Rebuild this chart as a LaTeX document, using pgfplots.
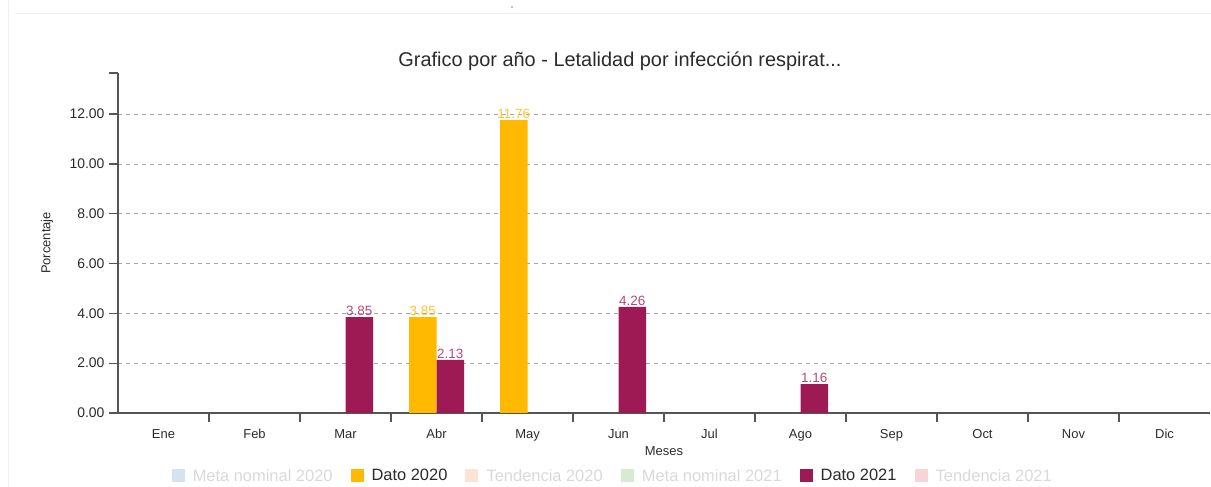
\documentclass[border=0pt]{standalone}
\usepackage{pgfplots}
\pgfplotsset{compat=1.18}
\usepackage{fontspec}
\setmainfont{Liberation Sans}
\definecolor{c20}{HTML}{FFB900}
\definecolor{c21}{HTML}{9E1A55}
\definecolor{l20}{HTML}{FFC233}
\definecolor{l21}{HTML}{B34A7E}
\definecolor{axc}{HTML}{555555}
\definecolor{txt}{HTML}{2B2B2B}
\definecolor{fade}{HTML}{D9D9D9}
\definecolor{fblue}{HTML}{D5E3F0}
\definecolor{fpeach}{HTML}{FCE3D3}
\definecolor{fgreen}{HTML}{D8EAD2}
\definecolor{fpink}{HTML}{F7D4D7}
\pgfplotsset{sq/.style={legend image code/.code={\fill[##1, draw=none] (0bp,-6.5bp) rectangle (13bp,6.5bp); \path (19bp,0bp);}}}
\begin{document}
\begin{tikzpicture}
\path[use as bounding box] (0,0) rectangle (1211bp,487bp);
\draw[gray!12, line width=1bp] (15bp,473bp) -- (1211bp,473bp);
\draw[gray!12, line width=1bp] (8bp,0bp) -- (8bp,487bp);
\fill[gray!70] (512bp,480bp) circle (1.2bp);
\begin{axis}[
  at={(118bp,74bp)}, anchor=south west,
  scale only axis, width=1092bp, height=340bp,
  xmin=0.5, xmax=12.5, ymin=0, ymax=13.65,
  ybar=0pt, bar width=27.5bp,
  axis lines*=left,
  axis line style={axc, line width=1.4bp},
  tick style={axc, line width=1.2bp},
  tick align=outside, major tick length=9bp,
  xtick={1.5,2.5,...,11.5}, xticklabels={},
  extra x ticks={1,2,...,12},
  extra x tick labels={Ene,Feb,Mar,Abr,May,Jun,Jul,Ago,Sep,Oct,Nov,Dic},
  extra x tick style={major tick length=0pt, grid=none},
  xticklabel style={yshift=-13bp},
  ytick={0,2,...,12},
  extra y ticks={13.65}, extra y tick labels={},
  extra y tick style={grid=none},
  ymajorgrids,
  grid style={gray!70, line width=0.8bp, dash pattern=on 4bp off 4bp},
  /pgf/number format/assume math mode=true,
  yticklabel style={/pgf/number format/fixed, /pgf/number format/fixed zerofill, /pgf/number format/precision=2, font=\fontsize{14}{16}\selectfont, xshift=-1bp},
  tick label style={font=\fontsize{13}{15}\selectfont, text=txt},
  xlabel={Meses}, ylabel={Porcentaje},
  label style={font=\fontsize{13}{15}\selectfont, text=txt},
  xlabel style={at={(axis description cs:0.5,0)}, anchor=center, yshift=-38bp},
  ylabel style={at={(axis description cs:-0.065,0.5)}, anchor=center},
  title={Grafico por año - Letalidad por infección respirat...},
  title style={at={(axis description cs:0.4597,1)}, anchor=center, yshift=6bp, font=\fontsize{20}{22}\selectfont, text=txt},
  nodes near coords,
  nodes near coords style={font=\fontsize{13.5}{15}\selectfont, inner sep=1.5bp,
    /pgf/number format/fixed, /pgf/number format/fixed zerofill, /pgf/number format/precision=2},
  legend columns=6,
  legend style={at={(axis description cs:0.453,-0.185)}, anchor=center, draw=none, fill=none,
    font=\fontsize{16.5}{18}\selectfont, inner sep=0pt,
    /tikz/every even column/.append style={column sep=16bp}},
]
\addlegendimage{sq, fill=fblue}
\addlegendentry[text=fade]{Meta nominal 2020}
\addplot[sq, fill=c20, draw=none, nodes near coords style={text=l20}] coordinates {(4,3.85) (5,11.76)};
\addlegendentry[text=txt]{Dato 2020}
\addlegendimage{sq, fill=fpeach}
\addlegendentry[text=fade]{Tendencia 2020}
\addlegendimage{sq, fill=fgreen}
\addlegendentry[text=fade]{Meta nominal 2021}
\addplot[sq, fill=c21, draw=none, nodes near coords style={text=l21}] coordinates {(3,3.85) (4,2.13) (6,4.26) (8,1.16)};
\addlegendentry[text=txt]{Dato 2021}
\addlegendimage{sq, fill=fpink}
\addlegendentry[text=fade]{Tendencia 2021}
\end{axis}
\end{tikzpicture}
\end{document}
